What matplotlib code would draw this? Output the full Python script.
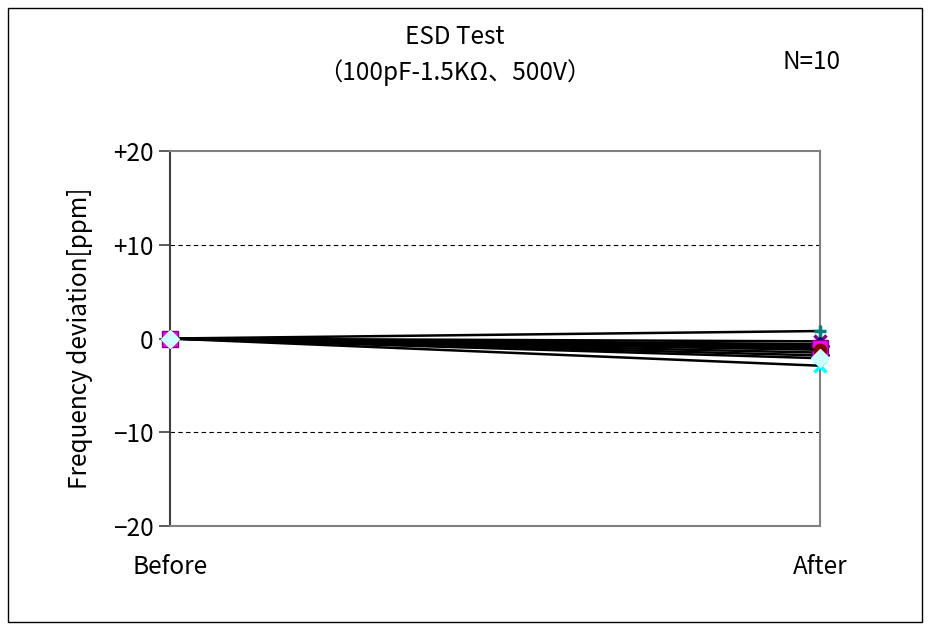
import numpy as np
import matplotlib.pyplot as plt
from matplotlib.patches import Rectangle

plt.rcParams['font.family'] = ['Noto Sans CJK JP', 'DejaVu Sans']

# data
stages = ['Before', 'After']
before = [0.0, 0.0, 0.0, 0.0, 0.0, 0.0, 0.0, 0.0, 0.0, 0.0]
after = [0.8, -0.3, -0.6, -0.8, -1.5, -1.8, -2.9, -1.0, -1.2, -2.1]
markers = ['+', 'x', '_', 'D', '^', 'D', 'x', 's', 'o', 'D']
face = ['#008080', '#800080', '#00FFFF', '#000080', '#FFFF00',
        '#000080', '#00FFFF', '#FF00FF', '#800000', '#CCFFFF']
edge = ['#008080', '#800080', '#00FFFF', '#000080', '#FFFF00',
        '#000080', '#00FFFF', '#800080', '#800000', '#CCFFFF']
sizes = [9, 9, 9, 9, 9, 9, 9, 11, 9, 9]
yticks = [20, 10, 0, -10, -20]
ytick_labels = ['+20', '+10', '0', '\u221210', '\u221220']

fs = 17.5
fig = plt.figure(figsize=(9.32, 6.3), dpi=100)
ax = fig.add_axes([0.1824, 0.165, 0.6974, 0.5953])

x = np.arange(len(stages))
for i in range(len(after)):
    ax.plot(x, [before[i], after[i]], color='black', lw=1.8, zorder=3,
            marker=markers[i], markersize=sizes[i], markerfacecolor=face[i],
            markeredgecolor=edge[i], markeredgewidth=2.5 if markers[i] in '+x_' else 1,
            clip_on=False)

ax.set_xlim(0, 1)
ax.set_ylim(-20, 20)
ax.set_yticks(yticks)
ax.set_yticklabels(ytick_labels, fontsize=fs)
ax.set_xticks(x)
ax.set_xticklabels(stages, fontsize=fs)
ax.tick_params(axis='x', length=0, pad=20)
ax.tick_params(axis='y', length=8, width=1.2, color='#404040', pad=4)
for t in [10, -10]:
    ax.axhline(t, color='black', ls=(0, (4, 3)), lw=0.8, zorder=1)
for s in ax.spines.values():
    s.set_color('#808080')
    s.set_linewidth(1.5)
ax.spines['left'].set_color('#404040')
ax.set_ylabel('Frequency deviation[ppm]', fontsize=fs, labelpad=14)

fig.text(0.488, 0.941, 'ESD Test', ha='center', va='center', fontsize=fs)
fig.text(0.488, 0.884, '（100pF-1.5KΩ、500V）', ha='center', va='center', fontsize=fs)
fig.text(0.871, 0.902, 'N=10', ha='center', va='center', fontsize=fs)

fig.patches.append(Rectangle((8/932, 8/630), 914/932, 614/630, transform=fig.transFigure,
                             fill=False, edgecolor='black', lw=1))

plt.savefig('out.png', dpi=100, facecolor='white')
